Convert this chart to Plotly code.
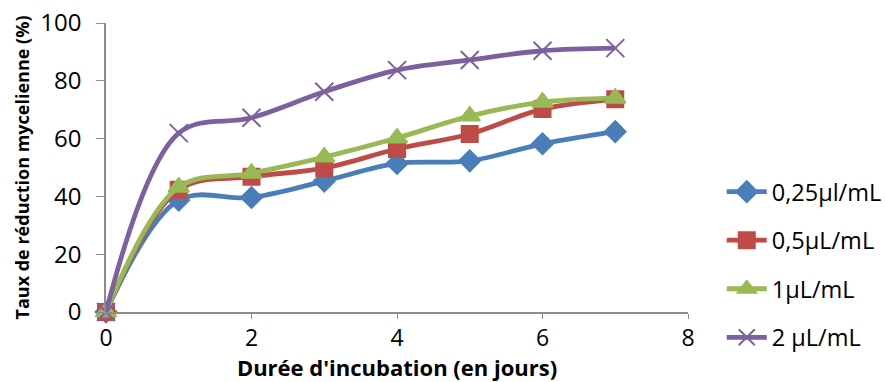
import plotly.graph_objects as go

# Incubation days
jours = [0, 1, 2, 3, 4, 5, 6, 7]

# Mycelial reduction rate (%) per essential-oil concentration
serie_025 = [0, 38.7, 39.6, 45.3, 51.4, 52.3, 58.2, 62.4]
serie_05 = [0, 42.3, 46.8, 49.8, 56.4, 61.6, 70.2, 73.6]
serie_1 = [0, 43.2, 48.0, 53.6, 60.2, 67.8, 72.6, 74.0]
serie_2 = [0, 61.9, 67.2, 76.2, 83.7, 87.2, 90.4, 91.3]

noms = ["0,25µl/mL", "0,5µL/mL", "1µL/mL", "2 µL/mL"]
couleurs = ["#4A7EBB", "#BE4B48", "#98B954", "#7D60A0"]
symboles = ["diamond", "square", "triangle-up", "x-thin-open"]
tailles = [16, 16, 18, 18]

fig = go.Figure()
for i, (nom, y) in enumerate(zip(noms, [serie_025, serie_05, serie_1, serie_2])):
    fig.add_trace(go.Scatter(
        x=jours, y=y, name=nom, mode="lines+markers",
        line=dict(color=couleurs[i], width=4.8, shape="spline", smoothing=1.0),
        marker=dict(symbol=symboles[i], size=tailles[i], color=couleurs[i],
                    line=dict(color=couleurs[i], width=2)),
        legendgroup=f"g{i}", cliponaxis=False,
    ))

police = "Open Sans, Liberation Sans, sans-serif"
fig.update_layout(
    width=885, height=382,
    margin=dict(l=106, r=197, t=23, b=70, autoexpand=False),
    paper_bgcolor="white", plot_bgcolor="white",
    font=dict(family=police, color="black"),
    legend=dict(x=1.058, y=0.163, yanchor="middle", xanchor="left",
                font=dict(size=23.5), tracegroupgap=15, traceorder="grouped",
                itemwidth=40),
    xaxis=dict(range=[0, 8], dtick=2, tick0=0, showgrid=False, zeroline=False,
               showline=True, linecolor="#8C8C8C", linewidth=1.5,
               ticks="outside", ticklen=5, tickcolor="#8C8C8C",
               tickfont=dict(size=23), automargin=False,
               title=dict(text="<b>Durée d'incubation (en jours)</b>",
                          font=dict(size=22), standoff=2)),
    yaxis=dict(range=[0, 100], dtick=20, showgrid=False, zeroline=False,
               showline=True, linecolor="#8C8C8C", linewidth=1.5,
               ticks="outside", ticklen=8, tickcolor="#8C8C8C",
               tickfont=dict(size=24), ticklabelstandoff=10, automargin=False,
               title=dict(text="<b>Taux de réduction mycelienne (%)</b>",
                          font=dict(size=18), standoff=6)),
)

fig.write_html("out.html")
